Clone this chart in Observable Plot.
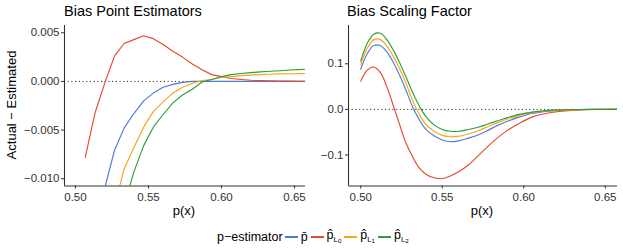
<!DOCTYPE html>
<html>
<head>
<meta charset="utf-8">
<script src="https://cdn.jsdelivr.net/npm/d3@7"></script>
<script src="https://cdn.jsdelivr.net/npm/@observablehq/plot@0.6"></script>
<style>
  html, body { margin: 0; padding: 0; background: #fff; }
  #wrap { position: relative; width: 623px; height: 249px; font-family: "Liberation Sans", Arial, sans-serif; overflow: hidden; }
  .ptitle { position: absolute; top: 3px; font-size: 14.5px; color: #000; white-space: nowrap; }
  .xtitle { position: absolute; top: 203px; font-size: 13px; color: #000; transform: translateX(-50%); }
  #ytitle { position: absolute; left: 11px; top: 105px; font-size: 13px; color: #000; white-space: nowrap; transform: translate(-50%, -50%) rotate(-90deg); }
  #legend { position: absolute; left: 217px; top: 228px; height: 18px; display: flex; align-items: center; font-size: 12.5px; color: #000; white-space: nowrap; }
  .key { display: inline-block; width: 13px; height: 1.2px; margin: 0 3px 0 2px; }
  .lab { display: inline-block; margin-right: 1px; line-height: 1; }
  .lab sub { font-size: 0.62em; vertical-align: -0.35em; }
  .lab sub sub { font-size: 0.8em; vertical-align: -0.2em; }
</style>
</head>
<body>
<div id="wrap">
  <div class="ptitle" style="left:64px">Bias Point Estimators</div>
  <div class="ptitle" style="left:347px">Bias Scaling Factor</div>
  <div id="ytitle">Actual − Estimated</div>
  <div class="xtitle" style="left:184px">p(x)</div>
  <div class="xtitle" style="left:482px">p(x)</div>
  <div id="legend"></div>
</div>
<script>
// ---- data ----
const seriesNames = ["pbar", "pL0", "pL1", "pL2"];
const seriesColors = ["#4d7bd6", "#e6492d", "#fba31d", "#2f9e3a"];

const xTicks = [0.50, 0.55, 0.60, 0.65];
const xLim = [0.4925, 0.6575];

// Left panel: Bias Point Estimators
const leftX = [0.5000,0.5067,0.5133,0.5200,0.5267,0.5333,0.5400,0.5467,0.5533,0.5600,0.5667,0.5733,0.5800,0.5867,0.5933,0.6000,0.6067,0.6133,0.6200,0.6267,0.6333,0.6400,0.6467,0.6533,0.6600];
const leftPbar = [null,null,null,-0.0110,-0.0071,-0.0048,-0.0033,-0.0020,-0.0012,-0.0006,-0.0003,-0.0001,0.0000,0,0,0,0,0,0,0,0,0,0,0,0];
const leftL0 = [null,-0.0078,-0.0033,-0.0002,0.0026,0.0039,0.0043,0.0047,0.0044,0.0038,0.0031,0.0025,0.0018,0.0012,0.0007,0.0005,0.0003,0.0002,0.00012,0.00008,0.00005,0.00004,0.00003,0.00002,0.00002];
const leftL1 = [null,null,null,null,-0.0129,-0.0090,-0.0068,-0.0047,-0.0031,-0.0021,-0.0012,-0.0006,-0.0002,0.0001,0.0002,0.0004,0.0005,0.0006,0.00065,0.0007,0.00074,0.00077,0.00079,0.0008,0.00082];
const leftL2 = [null,null,null,null,null,-0.0128,-0.0093,-0.0066,-0.0047,-0.0034,-0.0022,-0.0014,-0.0008,-0.00005,0.0002,0.0005,0.0007,0.00082,0.0009,0.00098,0.00105,0.0011,0.00117,0.00122,0.00128];
const leftYTicks = [0.005, 0.000, -0.005, -0.010];
const leftYLim = [-0.01075, 0.00575];

// Right panel: Bias Scaling Factor
const rightX = [0.500,0.504,0.508,0.512,0.516,0.520,0.524,0.528,0.532,0.536,0.540,0.545,0.550,0.555,0.560,0.566,0.572,0.578,0.584,0.590,0.597,0.605,0.615,0.625,0.635,0.645,0.660];
const rightPbar = [0.088,0.122,0.140,0.140,0.126,0.103,0.074,0.040,0.004,-0.023,-0.044,-0.058,-0.067,-0.071,-0.069,-0.063,-0.056,-0.046,-0.035,-0.026,-0.017,-0.009,-0.004,-0.0015,-0.0005,-0.0001,0];
const rightL0 = [0.062,0.086,0.093,0.081,0.050,0.008,-0.035,-0.076,-0.105,-0.129,-0.142,-0.150,-0.152,-0.146,-0.137,-0.122,-0.102,-0.081,-0.062,-0.046,-0.031,-0.017,-0.008,-0.0035,-0.0012,-0.0003,0];
const rightL1 = [0.098,0.134,0.153,0.153,0.139,0.116,0.088,0.055,0.018,-0.011,-0.033,-0.048,-0.057,-0.060,-0.059,-0.054,-0.047,-0.038,-0.029,-0.021,-0.013,-0.007,-0.003,-0.001,-0.0003,0,0];
const rightL2 = [0.106,0.145,0.165,0.167,0.153,0.130,0.101,0.069,0.036,0.007,-0.016,-0.034,-0.044,-0.048,-0.048,-0.044,-0.039,-0.032,-0.025,-0.018,-0.011,-0.006,-0.002,-0.0008,-0.0002,0,0];
const rightYTicks = [0.1, 0.0, -0.1];
const rightYLim = [-0.168, 0.184];

// ---- build tables ----
function longTable(xs, cols) {
  const rows = [];
  cols.forEach((ys, i) => xs.forEach((x, j) => rows.push({x, y: ys[j], s: seriesNames[i]})));
  return rows;
}
const leftData = longTable(leftX, [leftPbar, leftL0, leftL1, leftL2]);
const rightData = longTable(rightX, [rightPbar, rightL0, rightL1, rightL2]);

function panel({data, yLim, yTicks, yFmt, width, marginLeft, curve}) {
  return Plot.plot({
    width, height: 225,
    marginLeft, marginRight: 6, marginTop: 25, marginBottom: 39.5,
    style: {fontFamily: "'Liberation Sans', Arial, sans-serif", fontSize: "11.5px", background: "#fff", overflow: "visible"},
    x: {domain: xLim},
    y: {domain: yLim},
    color: {domain: seriesNames, range: seriesColors},
    marks: [
      Plot.ruleY([0], {stroke: "#222", strokeWidth: 1, strokeDasharray: "1.1,2.6"}),
      Plot.line(data, {x: "x", y: "y", z: "s", stroke: "s", strokeWidth: 1.15, curve, clip: true}),
      Plot.ruleX([xLim[0]], {stroke: "#333", strokeWidth: 1.1}),
      Plot.ruleY([yLim[0]], {stroke: "#333", strokeWidth: 1.1}),
      Plot.axisX({ticks: xTicks, tickFormat: d3.format(".2f"), tickSize: 3, tickPadding: 4, label: null, stroke: "#333", fill: "#333"}),
      Plot.axisY({ticks: yTicks, tickFormat: d3.format(yFmt), tickSize: 3, tickPadding: 2, label: null, stroke: "#333", fill: "#333"})
    ]
  });
}

const left = panel({data: leftData, yLim: leftYLim, yTicks: leftYTicks, yFmt: ".3f", width: 311, marginLeft: 64, curve: "linear"});
const right = panel({data: rightData, yLim: rightYLim, yTicks: rightYTicks, yFmt: ".1f", width: 312, marginLeft: 37, curve: "catmull-rom"});
left.style.position = "absolute"; left.style.left = "0px"; left.style.top = "0px";
right.style.position = "absolute"; right.style.left = "311px"; right.style.top = "0px";
const wrap = document.getElementById("wrap");
wrap.insertBefore(right, wrap.firstChild);
wrap.insertBefore(left, wrap.firstChild);

// ---- legend ----
const legendLabels = ["p\u0304", "p\u0302<sub>L<sub>0</sub></sub>", "p\u0302<sub>L<sub>1</sub></sub>", "p\u0302<sub>L<sub>2</sub></sub>"];
const lg = document.getElementById("legend");
let html = '<span class="lab" style="margin-right:0">p−estimator</span>';
seriesNames.forEach((s, i) => {
  html += `<span class="key" style="background:${seriesColors[i]}"></span><span class="lab">${legendLabels[i]}</span>`;
});
lg.innerHTML = html;
</script>
</body>
</html>
